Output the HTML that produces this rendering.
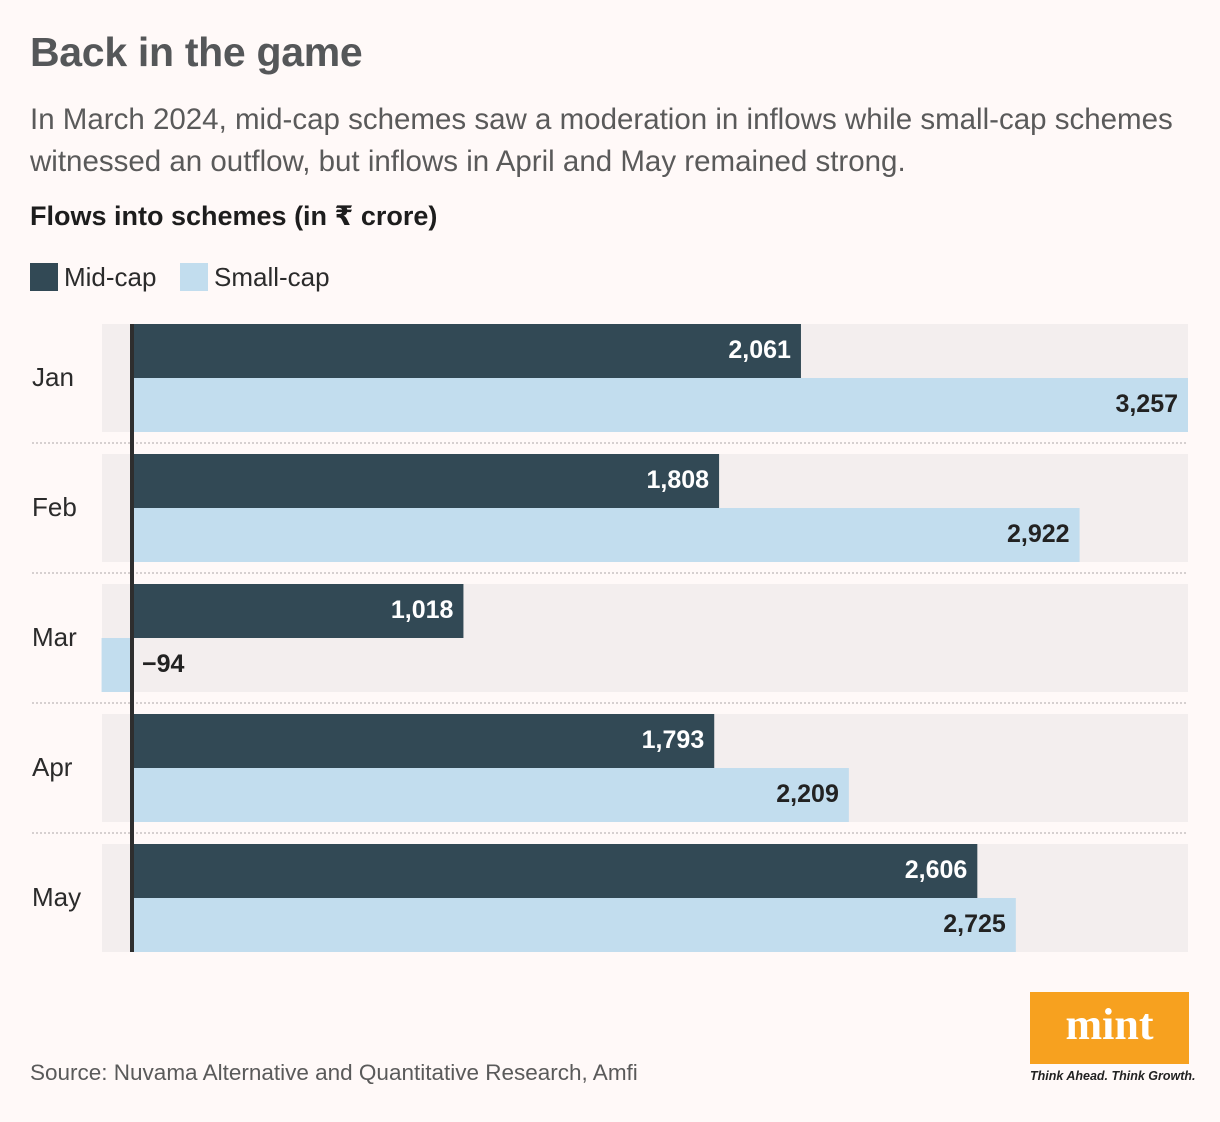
<!DOCTYPE html>
<html><head><meta charset="utf-8"><style>
body{margin:0;background:#fff9f8;width:1220px;height:1122px;overflow:hidden;font-family:"Liberation Sans","DejaVu Sans",sans-serif;}
.a{position:absolute;white-space:nowrap}
</style></head><body>
<div class="a" style="left:30px;top:29px;font-size:41px;font-weight:bold;color:#555759;letter-spacing:-0.3px">Back in the game</div>
<div class="a" style="left:30px;top:99px;font-size:29.5px;line-height:42px;color:#5a5a5a;letter-spacing:0px">In March 2024, mid-cap schemes saw a moderation in inflows while small-cap schemes<br>witnessed an outflow, but inflows in April and May remained strong.</div>
<div class="a" style="left:30px;top:201px;font-size:27px;font-weight:bold;color:#1d1d1d">Flows into schemes (in ₹ crore)</div>
<div class="a" style="left:30px;top:262px;font-size:26px;color:#2b2b2b"><span style="display:inline-block;width:28px;height:28px;background:#324955;vertical-align:-5px;margin-right:6px"></span>Mid-cap</div>
<div class="a" style="left:180px;top:262px;font-size:26px;color:#2b2b2b"><span style="display:inline-block;width:28px;height:28px;background:#c2ddee;vertical-align:-5px;margin-right:6px"></span>Small-cap</div>
<svg class="a" style="left:0;top:0" width="1220" height="1122" id="chart"></svg>
<div class="a" style="left:30px;top:1060px;font-size:22.5px;color:#5a5a5a">Source: Nuvama Alternative and Quantitative Research, Amfi</div>
<div class="a" style="left:1030px;top:992px;width:159px;height:72px;background:#f7a11f;color:#fff;font-family:'Liberation Serif',serif;font-weight:bold;font-size:44px;text-align:center;line-height:66px">mint</div>
<div class="a" style="left:1030px;top:1069px;font-size:12.5px;font-style:italic;font-weight:bold;color:#222">Think Ahead. Think Growth.</div>
<script>
const months=["Jan","Feb","Mar","Apr","May"];
const midCap=[2061,1808,1018,1793,2606];
const smallCap=[3257,2922,-94,2209,2725];
const labelsMid=["2,061","1,808","1,018","1,793","2,606"];
const labelsSmall=["3,257","2,922","−94","2,209","2,725"];
const NS="http://www.w3.org/2000/svg";
const svg=document.getElementById("chart");
const x0=134,scale=(1188-134)/3257;
const x=v=>x0+v*scale;
const rowY=i=>324+i*130;
function el(t,a){const e=document.createElementNS(NS,t);for(const k in a)e.setAttribute(k,a[k]);svg.appendChild(e);return e;}
months.forEach((m,i)=>{
  const y=rowY(i);
  const band=el("rect",{x:102,y:y,width:1086,height:108,fill:"#f3eeee"});
  
  
  if(i>0){const s=el("line",{x1:32,x2:1188,y1:y-11,y2:y-11,stroke:"#d6d0d0","stroke-width":2,"stroke-dasharray":"2 2"});
  
  }
  const lab=el("text",{x:32,y:y+62,"font-size":26,fill:"#2b2b2b"});lab.textContent=m;
  
  
  [[midCap[i],labelsMid[i],"#324955",y,"#fff"],[smallCap[i],labelsSmall[i],"#c2ddee",y+54,"#222"]].forEach(([v,l,c,by,tc],k)=>{
    const xs=Math.min(x(0),x(v)),w=Math.abs(x(v)-x(0));
    const b=el("rect",{x:v<0?xs-2:xs,y:by,width:w,height:54,fill:c});
    
    
    const t=el("text",{y:by+34,"font-size":25,"font-weight":"bold",fill:v<0?"#222":tc,"text-anchor":v<0?"start":"end",x:v<0?x0+8:x(v)-10});
    t.textContent=l;
    
    
  });
});
const ax=el("rect",{x:130,y:324,width:4,height:628,fill:"#2e2e2e"});


</script>
</body></html>
